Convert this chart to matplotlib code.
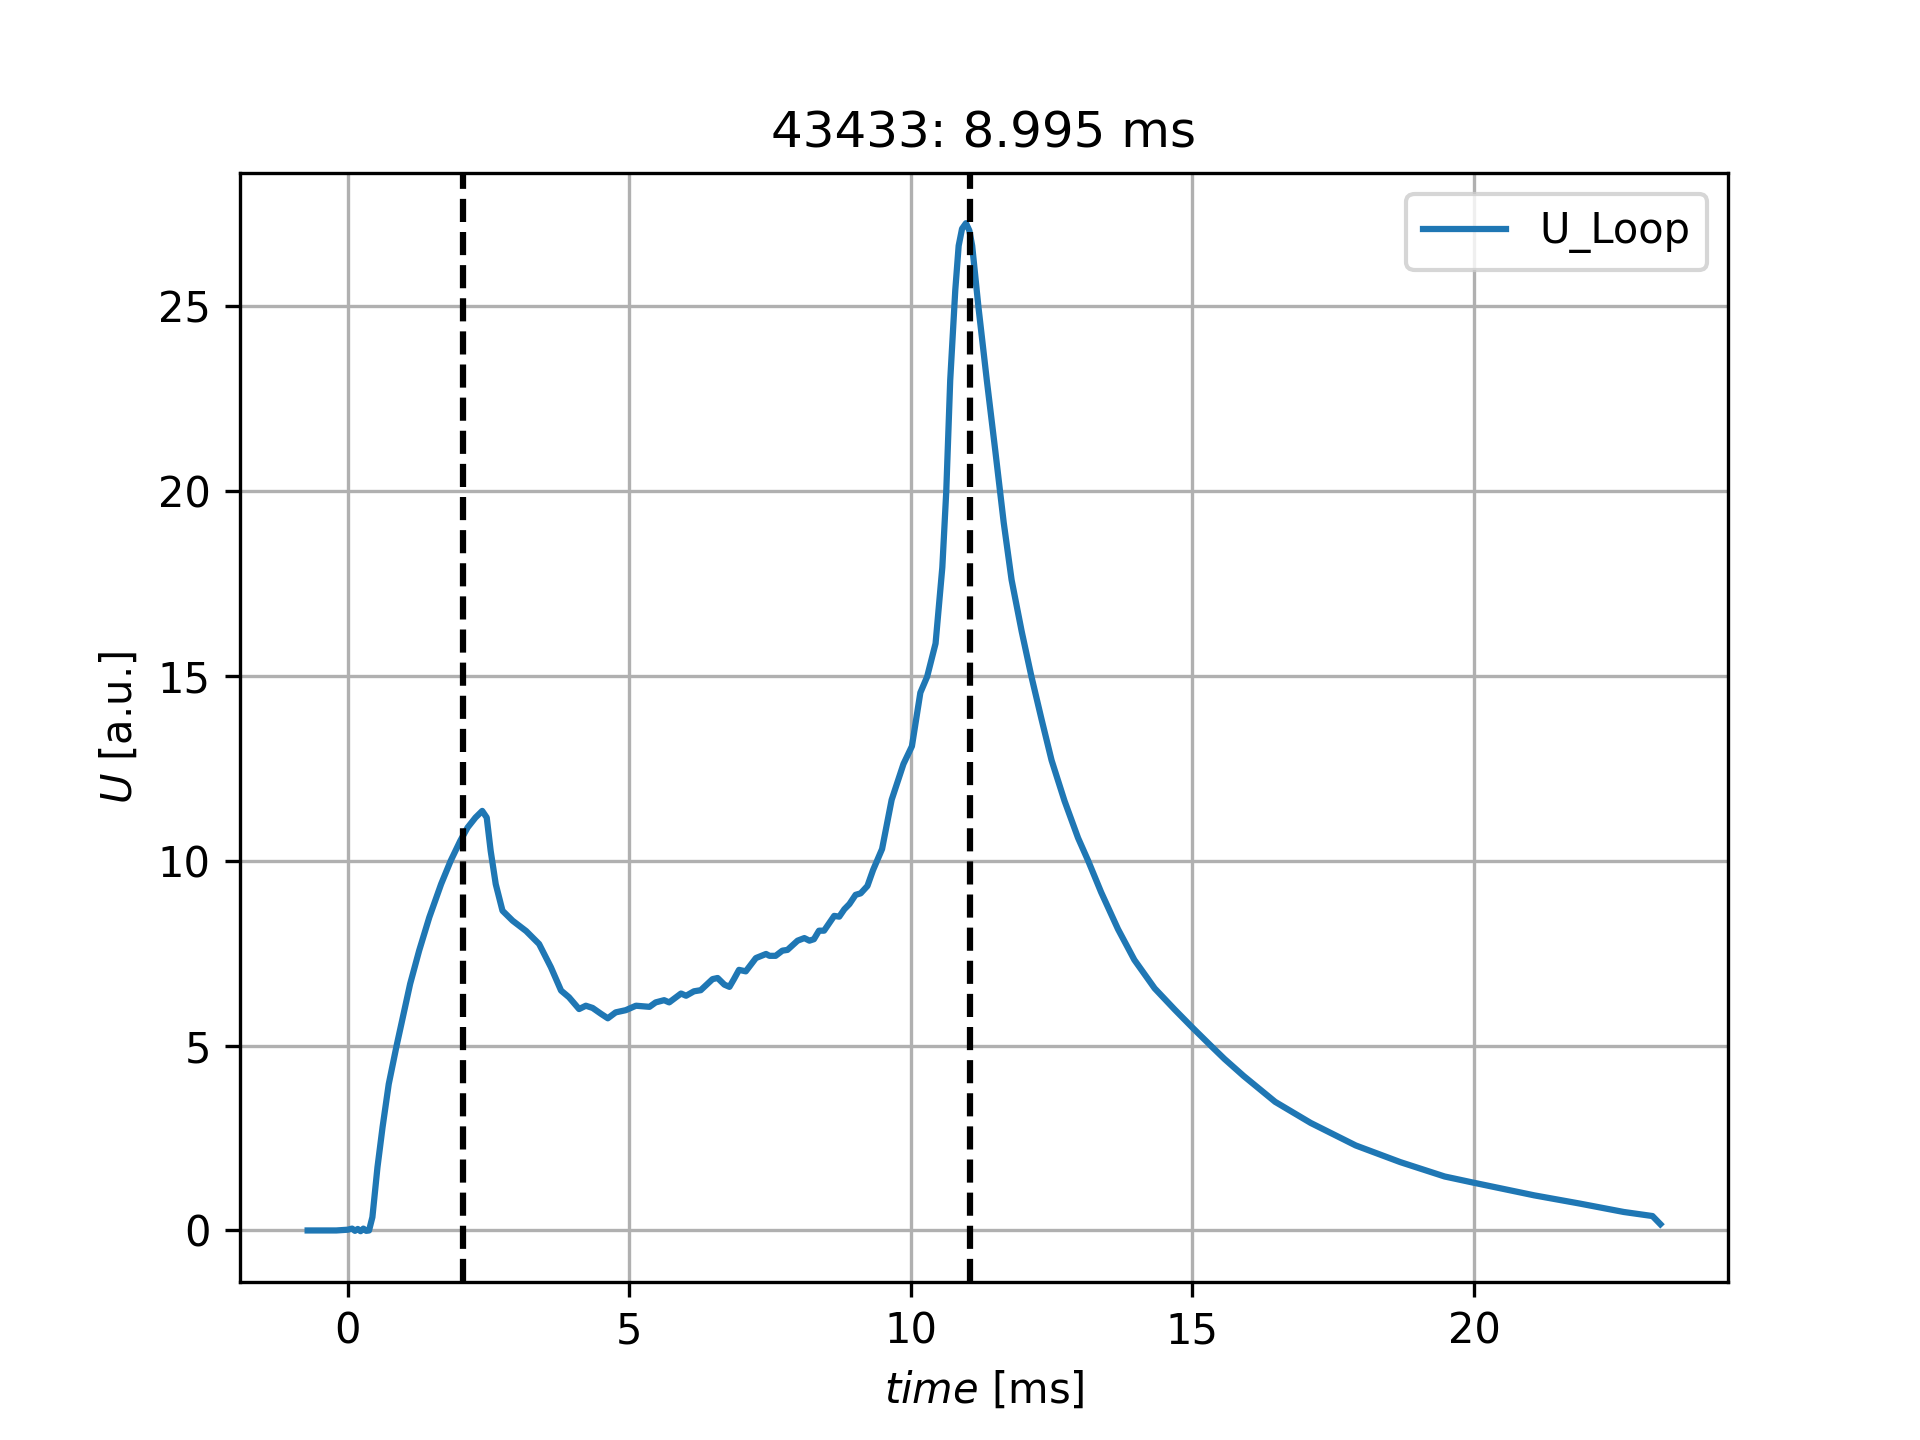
import matplotlib
matplotlib.use("Agg")
import matplotlib.pyplot as plt

title = "43433: 8.995 ms"
series_label = "U_Loop"
t_start = 2.05
t_end = 11.05

time_ms = [-0.71, -0.5, -0.2, 0.0, 0.08, 0.13, 0.18, 0.23, 0.28, 0.33, 0.38,
           0.44, 0.53, 0.62, 0.73, 0.87, 0.98, 1.11, 1.27, 1.45, 1.66, 1.83,
           2.0, 2.13, 2.27, 2.39, 2.47, 2.54, 2.63, 2.75, 2.93, 3.17, 3.40,
           3.61, 3.79, 3.93, 4.11, 4.23, 4.35, 4.50, 4.62, 4.76, 4.94, 5.12,
           5.36, 5.47, 5.62, 5.71, 5.92, 6.01, 6.15, 6.27, 6.48, 6.57, 6.69,
           6.78, 6.86, 6.95, 7.07, 7.25, 7.43, 7.49, 7.60, 7.72, 7.81, 7.99,
           8.11, 8.20, 8.28, 8.37, 8.46, 8.55, 8.64, 8.73, 8.82, 8.91, 9.02,
           9.11, 9.23, 9.33, 9.49, 9.66, 9.87, 10.02, 10.17, 10.29, 10.44,
           10.56, 10.63, 10.70, 10.79, 10.85, 10.91, 10.98, 11.04, 11.09,
           11.20, 11.35, 11.50, 11.65, 11.79, 11.97, 12.14, 12.32, 12.50,
           12.73, 12.97, 13.15, 13.38, 13.68, 13.97, 14.33, 14.69, 15.0,
           15.34, 15.57, 15.91, 16.47, 16.79, 17.10, 17.90, 18.69, 19.48,
           20.00, 21.07, 21.87, 22.66, 23.17, 23.31]

u_loop = [0.0, 0.0, 0.0, 0.02, 0.05, -0.01, 0.04, -0.02, 0.05, -0.01, 0.0,
          0.36, 1.71, 2.79, 3.96, 5.0, 5.77, 6.67, 7.57, 8.47, 9.37, 10.0,
          10.54, 10.9, 11.17, 11.35, 11.17, 10.27, 9.37, 8.65, 8.38, 8.10,
          7.75, 7.12, 6.49, 6.31, 5.99, 6.08, 6.02, 5.86, 5.74, 5.90, 5.96,
          6.08, 6.05, 6.17, 6.23, 6.17, 6.41, 6.35, 6.47, 6.50, 6.80, 6.83,
          6.65, 6.59, 6.80, 7.05, 7.01, 7.37, 7.48, 7.43, 7.43, 7.57, 7.59,
          7.84, 7.91, 7.84, 7.88, 8.11, 8.11, 8.31, 8.51, 8.49, 8.69, 8.83,
          9.08, 9.12, 9.32, 9.75, 10.32, 11.65, 12.62, 13.10, 14.55, 14.98,
          15.88, 17.94, 20.0, 23.0, 25.44, 26.64, 27.1, 27.25, 27.05, 26.64,
          25.0, 23.0, 21.1, 19.15, 17.6, 16.2, 15.0, 13.84, 12.72,
          11.62, 10.62, 10.0, 9.15, 8.15, 7.32, 6.55, 5.97, 5.49,
          4.98, 4.64, 4.18, 3.48, 3.19, 2.91, 2.30, 1.85, 1.46,
          1.29, 0.95, 0.73, 0.50, 0.39, 0.17]

fig, ax = plt.subplots(figsize=(6.4, 4.8), dpi=300)
ax.plot(time_ms, u_loop, color="#1f77b4", lw=1.5, label=series_label)
ax.axvline(t_start, color="k", ls="--")
ax.axvline(t_end, color="k", ls="--")
ax.set_title(title)
ax.set_xlabel("$time$ [ms]")
ax.set_ylabel("$U$ [a.u.]")
ax.grid(True)
ax.legend(loc="upper right")
fig.savefig("out.png", dpi=300)
